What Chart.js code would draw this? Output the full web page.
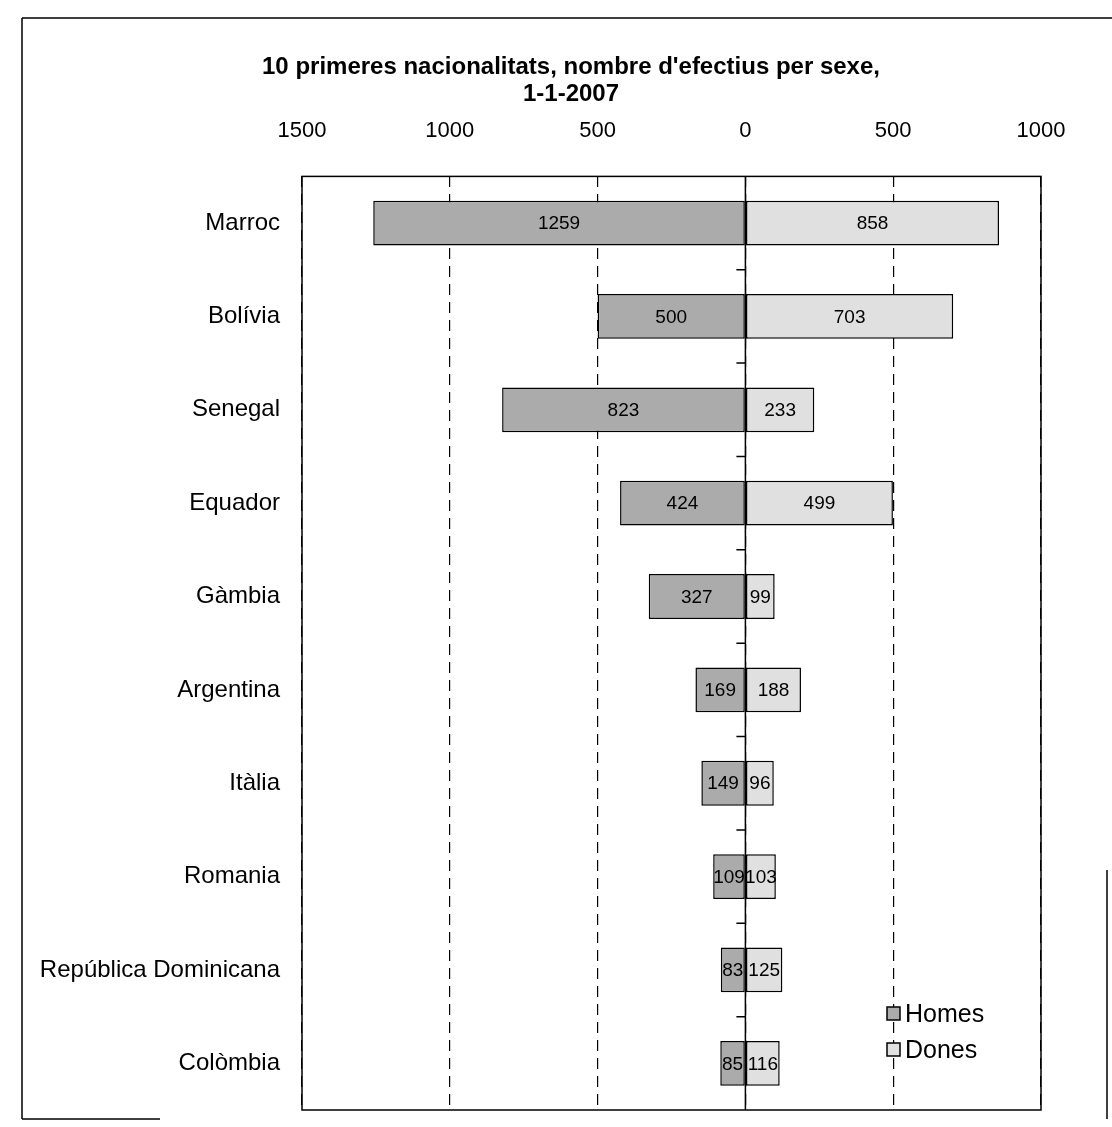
<!DOCTYPE html>
<html>
<head>
<meta charset="utf-8">
<script src="https://cdn.jsdelivr.net/npm/chart.js@4/dist/chart.umd.min.js"></script>
<style>
	html, body { margin: 0; padding: 0; background: #fff; }
	#wrap { width: 1112px; height: 1127px; }
</style>
</head>
<body>
<div id="wrap"><canvas id="chartPyramid"></canvas></div>
<script>
var countries = ['Marroc', 'Bolívia', 'Senegal', 'Equador', 'Gàmbia', 'Argentina', 'Itàlia', 'Romania', 'República Dominicana', 'Colòmbia'];
var homes = [1259, 500, 823, 424, 327, 169, 149, 109, 83, 85];
var dones = [858, 703, 233, 499, 99, 188, 96, 103, 125, 116];
var xTicks = [-1500, -1000, -500, 0, 500, 1000];
var titleLines = ['10 primeres nacionalitats, nombre d\'efectius per sexe,', '1-1-2007'];

var FONT = '"Liberation Sans", Arial, sans-serif';

// frame, title, box, zero axis, value labels and legend
var extras = {
	id: 'extras',
	beforeDraw: function (chart) {
		var c = chart.ctx;
		c.save();
		c.fillStyle = '#fff';
		c.fillRect(0, 0, chart.width, chart.height);
		c.strokeStyle = '#000';
		c.lineWidth = 1.5;
		c.beginPath();
		c.moveTo(22, 18); c.lineTo(1112, 18);
		c.moveTo(22, 18); c.lineTo(22, 1119);
		c.moveTo(22, 1119); c.lineTo(160, 1119);
		c.moveTo(1107, 870); c.lineTo(1107, 1119);
		c.stroke();

		// title, centred a little left of the plot like the original
		c.fillStyle = '#000';
		c.font = 'bold 24px ' + FONT;
		c.textAlign = 'center';
		c.textBaseline = 'middle';
		titleLines.forEach(function (t, i) {
			c.fillText(t, 571, 67 + i * 27.5);
		});
		c.restore();
	},
	beforeDatasetsDraw: function (chart) {
		var c = chart.ctx, a = chart.chartArea;
		var x0 = chart.scales.x.getPixelForValue(0);
		var ys = chart.scales.y;
		c.save();
		c.strokeStyle = '#000';
		c.lineWidth = 1.5;
		c.beginPath();
		c.moveTo(x0, a.top); c.lineTo(x0, a.bottom);
		for (var i = 1; i < countries.length; i++) {
			var yb = (ys.getPixelForValue(i - 1) + ys.getPixelForValue(i)) / 2;
			c.moveTo(x0 - 9, yb); c.lineTo(x0, yb);
		}
		c.stroke();
		c.restore();
	},
	afterDatasetsDraw: function (chart) {
		var c = chart.ctx, a = chart.chartArea;
		c.save();
		c.strokeStyle = '#000';
		c.lineWidth = 1.5;
		c.strokeRect(a.left, a.top, a.right - a.left, a.bottom - a.top);

		c.fillStyle = '#000';
		c.font = '19px ' + FONT;
		c.textAlign = 'center';
		c.textBaseline = 'middle';
		chart.data.datasets.forEach(function (ds, di) {
			chart.getDatasetMeta(di).data.forEach(function (bar, i) {
				c.fillText(Math.abs(ds.data[i]), (bar.x + bar.base) / 2, bar.y + 1);
			});
		});

		// legend, bottom right inside the plot
		c.font = '25px ' + FONT;
		c.textAlign = 'left';
		chart.data.datasets.forEach(function (ds, di) {
			var lx = a.right - 154, ly = a.bottom - 96 + di * 36;
			c.fillStyle = ds.backgroundColor;
			c.fillRect(lx, ly - 7, 13, 13);
			c.lineWidth = 1.5;
			c.strokeRect(lx, ly - 7, 13, 13);
			c.fillStyle = '#000';
			c.fillText(ds.label, lx + 18, ly + 1);
		});
		c.restore();
	}
};

var cp = document.getElementById('chartPyramid');
var chartPyramid = new Chart(cp, {
	type: 'bar',
	data: {
		labels: countries,
		datasets: [
			{
				label: 'Homes',
				data: homes.map(v => -v),
				backgroundColor: '#ababab',
				borderColor: '#000',
				borderWidth: 1.5,
				borderSkipped: false
			},
			{
				label: 'Dones',
				data: dones,
				backgroundColor: '#e0e0e0',
				borderColor: '#000',
				borderWidth: 1.5,
				borderSkipped: false
			}
		]
	},
	options: {
		indexAxis: 'y',
		responsive: true,
		maintainAspectRatio: false,
		animation: false,
		categoryPercentage: 1,
		barPercentage: 0.48,
		layout: { padding: { left: 30, right: 71, top: 86, bottom: 17 } },
		plugins: {
			legend: { display: false },
			tooltip: { enabled: false },
			title: { display: false }
		},
		scales: {
			x: {
				position: 'top',
				stacked: true,
				min: -1500,
				max: 1000,
				afterBuildTicks: function (s) { s.ticks = xTicks.map(v => ({ value: v })); },
				ticks: {
					color: '#000',
					font: { family: FONT, size: 22 },
					padding: 32,
					callback: function (v) { return Math.abs(v); }
				},
				grid: { color: '#000', lineWidth: 1.2, drawTicks: false },
				border: { display: false, dash: [11, 7] }
			},
			y: {
				stacked: true,
				afterFit: function (s) {
					s.width = 272;
					s.paddingTop = 0;
					s.paddingBottom = 0;
				},
				ticks: {
					color: '#000',
					font: { family: FONT, size: 24 },
					padding: 14
				},
				grid: { display: false },
				border: { display: false }
			}
		}
	},
	plugins: [extras]
});
</script>
</body>
</html>
